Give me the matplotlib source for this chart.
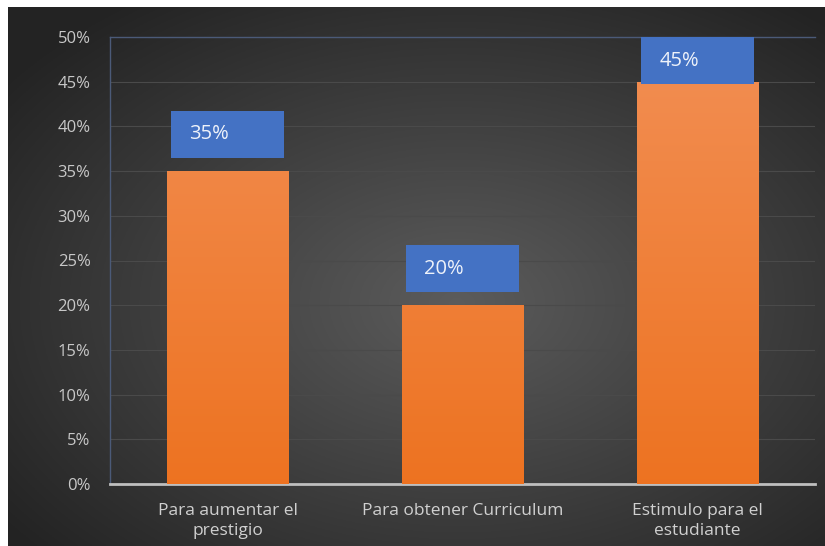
import numpy as np
import matplotlib
matplotlib.use("Agg")
import matplotlib.pyplot as plt
from matplotlib.patches import Rectangle

# data
categories = ["Para aumentar el\nprestigio", "Para obtener Curriculum", "Estimulo para el\nestudiante"]
values = [35, 20, 45]
y_ticks = [0, 5, 10, 15, 20, 25, 30, 35, 40, 45, 50]

plt.rcParams["font.family"] = ["Open Sans", "DejaVu Sans"]

fig = plt.figure(figsize=(8.25, 5.46), dpi=100)
fig.patch.set_facecolor("white")

# dark radial background behind everything
bg = fig.add_axes([8 / 825, 0, 1 - 8 / 825, 1 - 7 / 546])
yy, xx = np.mgrid[0:1:300j, 0:1:450j]
r = np.sqrt(((xx - 0.55) / 0.75) ** 2 + ((yy - 0.45) / 0.75) ** 2)
shade = np.clip(0.36 - 0.24 * r, 0.14, 0.36)
bg.imshow(np.dstack([shade] * 3), extent=[0, 1, 0, 1], aspect="auto", origin="lower")
bg.set_axis_off()

# plot area
x0, x1 = 110 / 825, 815 / 825
ytop, ybot = 1 - 37 / 546, 1 - 484 / 546
ax = fig.add_axes([x0, ybot, x1 - x0, ytop - ybot])
ax.set_facecolor("none")
ax.set_xlim(-0.5, 2.5)
ax.set_ylim(0, 50)

for t in y_ticks[1:-1]:
    ax.axhline(t, color="#4a4a4a", lw=0.8, zorder=0)

x = np.arange(len(categories))
bars = ax.bar(x, values, width=0.515, color="#ef7d2e", zorder=2)

# orange vertical gradient inside each bar
grad = np.linspace(0, 1, 256).reshape(-1, 1)
top_c = np.array([0.95, 0.56, 0.33])
bot_c = np.array([0.93, 0.45, 0.13])
img = bot_c + (top_c - bot_c) * grad
img = img.reshape(256, 1, 3)
for b in bars:
    im = ax.imshow(img, extent=[b.get_x(), b.get_x() + b.get_width(), 0, 50],
                   origin="lower", aspect="auto", zorder=3)
    im.set_clip_path(b)

# blue value labels
box_h = 5.2
box_w = 0.48
for xi, v in zip(x, values):
    bottom = min(v + 1.5, 50 - box_h - 0.05)
    ax.add_patch(Rectangle((xi - box_w / 2, bottom), box_w, box_h,
                           facecolor="#4472c4", edgecolor="none", zorder=4))
    ax.text(xi - box_w / 2 + 0.077, bottom + box_h / 2, f"{v}%", color="#eef2fa",
            fontsize=14.5, ha="left", va="center", zorder=5)

ax.set_yticks(y_ticks)
ax.set_yticklabels([f"{t}%" for t in y_ticks], color="#c8c8c8", fontsize=12)
ax.set_xticks(x)
ax.set_xticklabels(categories, color="#d0d0d0", fontsize=12.5, linespacing=1.3)
ax.tick_params(axis="both", length=0)
ax.tick_params(axis="y", pad=14)
ax.tick_params(axis="x", pad=14)

for s in ["left", "top"]:
    ax.spines[s].set_color("#4b5a78")
    ax.spines[s].set_linewidth(1.0)
ax.spines["right"].set_visible(False)
ax.spines["bottom"].set_color("#bfbfbf")
ax.spines["bottom"].set_linewidth(2)

fig.savefig("out.png", dpi=100, facecolor=fig.get_facecolor())
